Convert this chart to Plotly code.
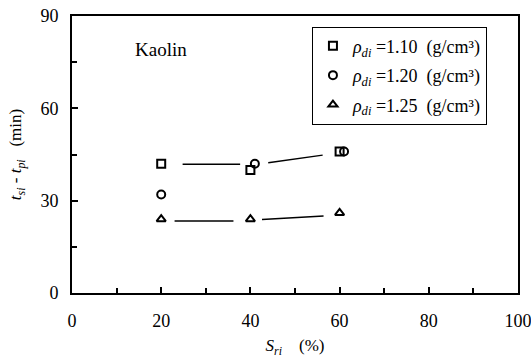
import plotly.graph_objects as go

# ---- data ----
sr_110 = [20, 40, 60]
t_110 = [42, 40, 46]
sr_120 = [20, 41, 61]
t_120 = [32, 42, 46]
sr_125 = [20, 40, 60]
t_125 = [24, 24, 26]

# hand-drawn trend segments (None splits segments)
upper_x = [24.8, 37.7, None, 44.0, 56.2]
upper_y = [41.8, 41.8, None, 42.3, 44.8]
lower_x = [23.0, 36.2, None, 42.6, 56.4]
lower_y = [23.4, 23.4, None, 23.9, 25.0]

x_ticks = [0, 20, 40, 60, 80, 100]
y_ticks = [0, 30, 60, 90]

labels = [
    "<i>ρ</i><sub><i>di</i></sub> =1.10  (g/cm³)",
    "<i>ρ</i><sub><i>di</i></sub> =1.20  (g/cm³)",
    "<i>ρ</i><sub><i>di</i></sub> =1.25  (g/cm³)",
]

FONT = "Liberation Serif"

fig = go.Figure()

fig.add_trace(go.Scatter(x=upper_x, y=upper_y, mode="lines",
                         line=dict(color="black", width=1.5), showlegend=False))
fig.add_trace(go.Scatter(x=lower_x, y=lower_y, mode="lines",
                         line=dict(color="black", width=1.5), showlegend=False))

sym = ["square-open", "circle-open", "triangle-up-open"]
xs = [sr_110, sr_120, sr_125]
ys = [t_110, t_120, t_125]
for i in range(3):
    fig.add_trace(go.Scatter(
        x=xs[i], y=ys[i], mode="markers", name=labels[i],
        legendgroup=f"g{i}",
        marker=dict(symbol=sym[i], size=8, color="black",
                    line=dict(color="black", width=2)),
    ))

fig.add_annotation(x=13.7, y=79, xanchor="left", text="Kaolin", showarrow=False,
                   font=dict(family=FONT, size=19, color="black"))

fig.update_layout(
    width=531, height=358,
    margin=dict(l=72, r=13, t=16, b=65),
    paper_bgcolor="white", plot_bgcolor="white",
    font=dict(family=FONT, size=18, color="black"),
    legend=dict(x=0.538, y=0.962, xanchor="left", yanchor="top",
                bordercolor="black", borderwidth=1,
                font=dict(family=FONT, size=18, color="black"),
                tracegroupgap=3, itemwidth=30, bgcolor="white"),
)

fig.update_xaxes(
    range=[0, 100], tickvals=x_ticks, ticktext=[str(v) for v in x_ticks],
    ticks="inside", ticklen=6, tickwidth=2, tickcolor="black",
    minor=dict(dtick=10, ticks="inside", ticklen=5, tickwidth=2, tickcolor="black"),
    showline=True, linewidth=2, linecolor="black", mirror=True,
    showgrid=False, zeroline=False, ticklabelstandoff=10, automargin=False,
    ticklabeloverflow="allow",
    title=dict(text="<i>S</i><sub><i>ri</i></sub>    (%)",
               font=dict(family=FONT, size=17), standoff=14),
)
fig.update_yaxes(
    range=[0, 90], tickvals=y_ticks, ticktext=[str(v) for v in y_ticks],
    ticks="inside", ticklen=6, tickwidth=2, tickcolor="black",
    minor=dict(dtick=15, ticks="inside", ticklen=5, tickwidth=2, tickcolor="black"),
    showline=True, linewidth=2, linecolor="black", mirror=True,
    showgrid=False, zeroline=False, ticklabelstandoff=8, automargin=False,
    ticklabeloverflow="allow",
    title=dict(text="<i>t</i><sub><i>si</i></sub> - <i>t</i><sub><i>pi</i></sub>   (min)",
               font=dict(family=FONT, size=17), standoff=14),
)

fig.write_html("out.html")
